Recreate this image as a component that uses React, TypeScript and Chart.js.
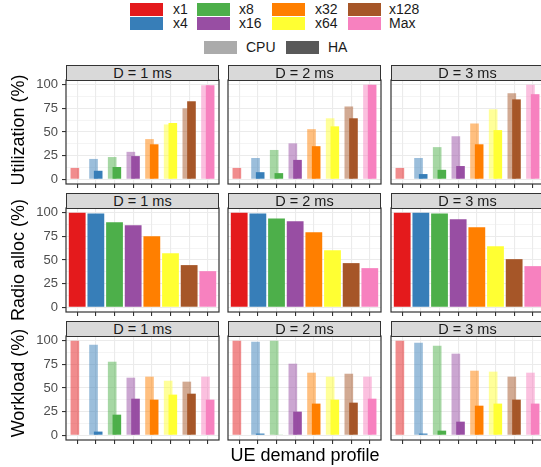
import React, { useEffect, useRef } from 'react';
import { Chart, registerables } from 'chart.js';

Chart.register(...registerables);

const FONT = '"Liberation Sans", Arial, Helvetica, sans-serif';

// ---------- data ----------
const categories = ['x1', 'x4', 'x8', 'x16', 'x32', 'x64', 'x128', 'Max'];
const facetLabels = ['D = 1 ms', 'D = 2 ms', 'D = 3 ms'];
const rowTitles = ['Utilization (%)', 'Radio alloc (%)', 'Workload (%)'];
const seriesLabels = ['CPU', 'HA'];
const seriesColors = ['#ABABAB', '#595959'];
const yTickValues = [0, 12.5, 25, 37.5, 50, 62.5, 75, 87.5, 100];
const yMajorTicks = [0, 25, 50, 75, 100];
const palette = ['#E41A1C', '#377EB8', '#4DAF4A', '#984EA3', '#FF7F00', '#FFFF33', '#A65628', '#F781BF'];

// Utilization (%)
const utilCpuD1 = [12, 21.5, 23.5, 29, 42.5, 58, 75, 99.5];
const utilHaD1 = [0, 9, 13, 24.5, 37, 59.5, 82.5, 99.5];
const utilCpuD2 = [12, 22.5, 31, 38, 53, 64.5, 77, 100];
const utilHaD2 = [0, 7.5, 6.5, 20.5, 35, 56, 64.5, 100];
const utilCpuD3 = [12, 22.5, 34, 45.5, 59, 74, 91, 100];
const utilHaD3 = [0, 5.5, 10, 14, 37, 52, 84.5, 90];

// Radio alloc (%)
const radioD1 = [100, 99.3, 89.8, 86.7, 75, 57.2, 44.6, 38.2];
const radioD2 = [100, 99.3, 94, 90.9, 79.3, 60.4, 46.7, 41.4];
const radioD3 = [100, 100, 99.3, 93, 84.6, 64.6, 50.9, 43.5];

// Workload (%)
const workCpuD1 = [100, 95.8, 77.8, 60.9, 62, 57.7, 56.7, 62];
const workHaD1 = [0, 3.9, 21.8, 38.7, 37.7, 43, 44, 37.7];
const workCpuD2 = [100, 98.9, 100, 75.7, 66.2, 62, 65.1, 62];
const workHaD2 = [0, 1.8, 0.7, 25, 33.5, 37.7, 34.5, 38.7];
const workCpuD3 = [100, 97.9, 94.7, 86.3, 68.3, 67.3, 62, 66.2];
const workHaD3 = [0, 1.8, 4.9, 14.4, 31.3, 33.5, 37.7, 33.5];

const grid: number[][][][] = [
  [[utilCpuD1, utilHaD1], [utilCpuD2, utilHaD2], [utilCpuD3, utilHaD3]],
  [[radioD1], [radioD2], [radioD3]],
  [[workCpuD1, workHaD1], [workCpuD2, workHaD2], [workCpuD3, workHaD3]],
];

// ---------- layout ----------
const PANEL_LEFTS = [66, 228, 391];
const PANEL_W = 153;
const PANEL_TOPS = [80, 208, 336];
const PANEL_H = 104;
const STRIP_H = 15;
const X_AXIS_H = 6;
const TITLE_CENTERS = [130, 260, 383];

function withAlpha(hex: string, a: number) {
  const r = parseInt(hex.slice(1, 3), 16);
  const g = parseInt(hex.slice(3, 5), 16);
  const b = parseInt(hex.slice(5, 7), 16);
  return `rgba(${r},${g},${b},${a})`;
}

const panelBorder = {
  id: 'panelBorder',
  afterDraw(chart: any) {
    const { ctx, chartArea: a } = chart;
    ctx.save();
    ctx.strokeStyle = '#333333';
    ctx.lineWidth = 1.2;
    ctx.strokeRect(a.left, a.top, a.right - a.left, a.bottom - a.top);
    ctx.restore();
  },
};

const isMajor = (ctx: any) => ctx && ctx.tick && yMajorTicks.includes(ctx.tick.value);

function Panel({ col, row, series }: { col: number; row: number; series: number[][] }) {
  const ref = useRef<HTMLCanvasElement>(null);
  const left = PANEL_LEFTS[col];
  const top = PANEL_TOPS[row];
  const cl = col === 0 ? 20 : left - 2;
  const ct = top - 2;
  const cw = left + PANEL_W + 2 - cl;
  const ch = PANEL_H + 2 + X_AXIS_H;

  useEffect(() => {
    const single = series.length === 1;
    const datasets = single
      ? [
          {
            label: rowTitles[row],
            data: series[0].map((v, i) => ({ x: i, y: v })),
            backgroundColor: palette,
            categoryPercentage: 1,
            barPercentage: 0.9,
            borderWidth: 0,
          },
        ]
      : series.map((vals, k) => ({
          label: seriesLabels[k],
          data: vals.map((v, i) => ({ x: i, y: v })),
          backgroundColor: k === 0 ? palette.map((c) => withAlpha(c, 0.5)) : palette,
          categoryPercentage: 0.5,
          barPercentage: 1.85,
          borderWidth: 0,
        }));

    const chart = new Chart(ref.current as HTMLCanvasElement, {
      type: 'bar',
      data: { datasets } as any,
      options: {
        animation: false,
        responsive: false,
        maintainAspectRatio: false,
        devicePixelRatio: 1,
        events: [],
        layout: { padding: { left: 0, top: 2, right: 2, bottom: 0 } },
        plugins: { legend: { display: false }, tooltip: { enabled: false } },
        scales: {
          x: {
            type: 'linear',
            min: -0.6,
            max: categories.length - 1 + 0.6,
            offset: false,
            afterBuildTicks: (s: any) => {
              s.ticks = categories.map((_, i) => ({ value: i }));
            },
            afterFit: (s: any) => {
              s.height = X_AXIS_H;
              s.paddingLeft = 0;
              s.paddingRight = 0;
            },
            grid: {
              offset: false,
              color: '#EBEBEB',
              lineWidth: 1.1,
              drawTicks: true,
              tickLength: 4,
              tickColor: '#333333',
              tickWidth: 1.1,
            },
            border: { display: false },
            ticks: { display: false },
          },
          y: {
            type: 'linear',
            min: -5,
            max: 105,
            afterBuildTicks: (s: any) => {
              s.ticks = yTickValues.map((v) => ({ value: v }));
            },
            afterFit: (s: any) => {
              s.width = left - cl;
              s.paddingTop = 0;
              s.paddingBottom = 0;
            },
            grid: {
              color: '#EBEBEB',
              lineWidth: (c: any) => (isMajor(c) ? 1.1 : 0.55),
              drawTicks: col === 0,
              tickLength: 4,
              tickColor: (c: any) => (isMajor(c) ? '#333333' : 'rgba(0,0,0,0)'),
              tickWidth: 1.1,
            },
            border: { display: false },
            ticks: {
              display: col === 0,
              autoSkip: false,
              padding: 4,
              color: '#4D4D4D',
              font: { size: 13, family: FONT },
              callback: (v: any) => (yMajorTicks.includes(Number(v)) ? String(v) : ''),
            },
          },
        } as any,
      },
      plugins: [panelBorder],
    });
    return () => chart.destroy();
  }, []);

  return (
    <canvas
      ref={ref}
      width={cw}
      height={ch}
      style={{ position: 'absolute', left: cl, top: ct, width: cw, height: ch }}
    />
  );
}

const legendCols = [
  ['x1', 'x4'],
  ['x8', 'x16'],
  ['x32', 'x64'],
  ['x128', 'Max'],
];
const LEG_KEY_LEFTS = [130, 197, 272, 348];
const LEG_TEXT_LEFTS = [173, 239, 315, 389];
const LEG_ROW_TOPS = [3, 17];

function Legend() {
  const items: any[] = [];
  legendCols.forEach((colLabels, c) => {
    colLabels.forEach((lab, r) => {
      const color = palette[categories.indexOf(lab)];
      items.push(
        <div
          key={'k' + lab}
          style={{ position: 'absolute', left: LEG_KEY_LEFTS[c], top: LEG_ROW_TOPS[r], width: 33, height: 13, background: color }}
        />
      );
      items.push(
        <div
          key={'t' + lab}
          style={{ position: 'absolute', left: LEG_TEXT_LEFTS[c], top: LEG_ROW_TOPS[r], height: 13, lineHeight: '13px', fontSize: 14, color: '#1A1A1A', whiteSpace: 'nowrap' }}
        >
          {lab}
        </div>
      );
    });
  });
  const sKeys = [204, 286];
  const sText = [246, 328];
  seriesLabels.forEach((lab, k) => {
    items.push(
      <div key={'sk' + lab} style={{ position: 'absolute', left: sKeys[k], top: 41, width: 33, height: 13, background: seriesColors[k] }} />
    );
    items.push(
      <div
        key={'st' + lab}
        style={{ position: 'absolute', left: sText[k], top: 41, height: 13, lineHeight: '13px', fontSize: 14, color: '#1A1A1A', whiteSpace: 'nowrap' }}
      >
        {lab}
      </div>
    );
  });
  return <>{items}</>;
}

export default function App() {
  const panels: any[] = [];
  const strips: any[] = [];
  const titles: any[] = [];
  for (let r = 0; r < 3; r++) {
    for (let c = 0; c < 3; c++) {
      panels.push(<Panel key={`p${r}${c}`} col={c} row={r} series={grid[r][c]} />);
      strips.push(
        <div
          key={`s${r}${c}`}
          style={{
            position: 'absolute',
            left: PANEL_LEFTS[c],
            top: PANEL_TOPS[r] - STRIP_H,
            width: PANEL_W,
            height: STRIP_H + 1,
            boxSizing: 'border-box',
            border: '1.2px solid #333333',
            background: '#D9D9D9',
            color: '#1A1A1A',
            fontSize: 14.5,
            lineHeight: `${STRIP_H - 1}px`,
            textAlign: 'center',
            whiteSpace: 'nowrap',
          }}
        >
          {facetLabels[c]}
        </div>
      );
    }
    titles.push(
      <div
        key={`t${r}`}
        style={{
          position: 'absolute',
          left: 18,
          top: TITLE_CENTERS[r],
          transform: 'translate(-50%, -50%) rotate(-90deg)',
          fontSize: 18,
          color: '#000',
          whiteSpace: 'nowrap',
          lineHeight: '18px',
        }}
      >
        {rowTitles[r]}
      </div>
    );
  }
  return (
    <div
      style={{
        position: 'fixed',
        left: 0,
        top: 0,
        width: 541,
        height: 467,
        overflow: 'hidden',
        background: '#ffffff',
        fontFamily: FONT,
      }}
    >
      <Legend />
      {panels}
      {strips}
      {titles}
      <div
        style={{
          position: 'absolute',
          left: PANEL_LEFTS[0],
          width: PANEL_LEFTS[2] + PANEL_W - PANEL_LEFTS[0],
          top: 446,
          textAlign: 'center',
          fontSize: 18,
          lineHeight: '18px',
          color: '#000',
          whiteSpace: 'nowrap',
        }}
      >
        UE demand profile
      </div>
    </div>
  );
}
